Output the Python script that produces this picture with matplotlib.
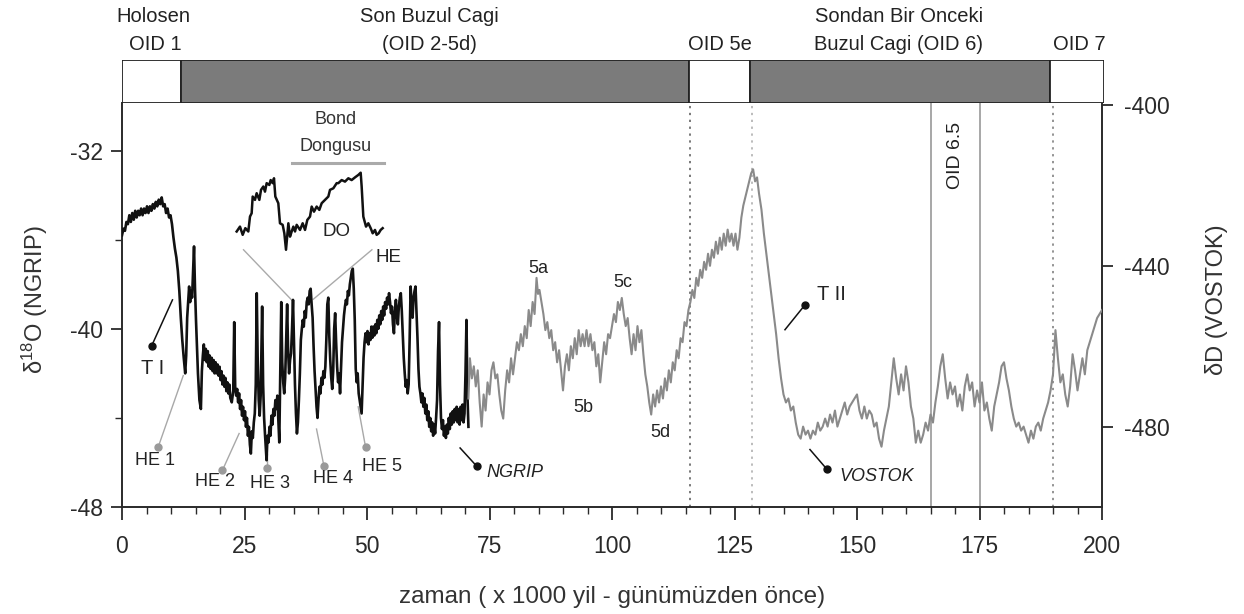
import matplotlib
matplotlib.use("Agg")
import matplotlib.pyplot as plt
from matplotlib.patches import Rectangle
from matplotlib.ticker import MultipleLocator, FixedLocator

plt.rcParams['font.family'] = ['Liberation Sans', 'DejaVu Sans']
plt.rcParams['axes.unicode_minus'] = False
plt.rcParams['mathtext.fontset'] = 'custom'
plt.rcParams['mathtext.rm'] = 'Liberation Sans'
plt.rcParams['mathtext.it'] = 'Liberation Sans:italic'

# ---------------- data ----------------
# NGRIP d18O (permil), age in ka BP
ngrip_age = [0.0, 0.3, 0.6, 0.9, 1.2, 1.5, 1.8, 2.1, 2.4, 2.7, 3.0, 3.3, 3.6, 3.9, 4.2, 4.5, 4.8, 5.1, 5.4, 5.7,
             6.0, 6.3, 6.6, 6.9, 7.2, 7.5, 7.8, 8.1, 8.4, 8.7, 9.0, 9.3, 9.6, 9.9, 10.2, 10.5, 10.8, 11.1, 11.4, 11.7,
             12.0, 12.3, 12.6, 12.9, 13.1, 13.3, 13.5, 13.7, 13.9, 14.1, 14.3, 14.5, 14.7, 14.9, 15.1, 15.3, 15.5, 15.8, 16.1, 16.3,
             16.5, 16.7, 16.9, 17.1, 17.3, 17.5, 17.7, 17.9, 18.1, 18.3, 18.5, 18.7, 18.9, 19.1, 19.3, 19.5, 19.7, 19.9, 20.1, 20.3,
             20.5, 20.7, 20.9, 21.1, 21.3, 21.5, 21.7, 21.9, 22.1, 22.4, 22.7, 22.9, 23.1, 23.3, 23.5, 23.7, 23.9, 24.1, 24.3, 24.5,
             24.7, 24.9, 25.1, 25.3, 25.5, 25.7, 25.9, 26.1, 26.3, 26.5, 26.7, 26.9, 27.1, 27.3, 27.5, 27.7, 27.9, 28.1, 28.3, 28.5,
             28.6, 28.8, 29.0, 29.2, 29.4, 29.5, 29.7, 29.9, 30.1, 30.3, 30.5, 30.7, 30.9, 31.1, 31.3, 31.5, 31.7, 31.9, 32.1, 32.3,
             32.5, 32.7, 32.9, 33.1, 33.3, 33.5, 33.7, 33.9, 34.1, 34.3, 34.5, 34.7, 34.9, 35.1, 35.3, 35.5, 35.7, 35.9, 36.1, 36.3,
             36.5, 36.7, 36.9, 37.1, 37.3, 37.5, 37.7, 37.9, 38.1, 38.3, 38.5, 38.7, 38.9, 39.1, 39.3, 39.5, 39.7, 39.9, 40.1, 40.3,
             40.5, 40.7, 40.9, 41.1, 41.3, 41.5, 41.7, 41.9, 42.1, 42.3, 42.5, 42.7, 42.9, 43.1, 43.3, 43.5, 43.7, 43.9, 44.1, 44.3,
             44.5, 44.7, 44.9, 45.1, 45.3, 45.5, 45.7, 45.9, 46.1, 46.3, 46.5, 46.7, 46.9, 47.1, 47.3, 47.5, 47.7, 47.9, 48.1, 48.3,
             48.5, 48.7, 48.9, 49.1, 49.3, 49.5, 49.7, 49.9, 50.1, 50.3, 50.5, 50.7, 50.9, 51.1, 51.3, 51.5, 51.7, 51.9, 52.1, 52.3,
             52.5, 52.7, 52.9, 53.1, 53.3, 53.5, 53.7, 53.9, 54.1, 54.3, 54.5, 54.7, 54.9, 55.1, 55.3, 55.5, 55.7, 55.9, 56.1, 56.3,
             56.5, 56.7, 56.9, 57.1, 57.3, 57.5, 57.7, 57.9, 58.1, 58.3, 58.5, 58.7, 58.9, 59.1, 59.3, 59.5, 59.7, 59.9, 60.1, 60.3,
             60.5, 60.7, 60.9, 61.1, 61.3, 61.5, 61.7, 61.9, 62.1, 62.3, 62.5, 62.7, 62.9, 63.1, 63.3, 63.5, 63.7, 63.9, 64.1, 64.3,
             64.5, 64.7, 64.9, 65.1, 65.3, 65.5, 65.7, 65.9, 66.1, 66.3, 66.5, 66.7, 66.9, 67.1, 67.3, 67.5, 67.7, 67.9, 68.1, 68.3,
             68.5, 68.7, 68.9, 69.1, 69.3, 69.5, 69.7, 69.9, 70.1, 70.3, 70.5, 70.7]
ngrip_d18o = [-35.8, -35.5, -35.6, -35.2, -35.3, -34.9, -35.2, -34.8, -35.1, -34.7, -35.0, -34.7, -34.9, -34.6, -34.9, -34.6, -34.8, -34.5, -34.8, -34.5,
              -34.7, -34.4, -34.6, -34.3, -34.5, -34.2, -34.4, -34.1, -34.5, -34.4, -34.8, -34.6, -35.0, -34.9, -35.3, -35.9, -36.4, -36.8, -37.4, -38.3,
              -39.5, -40.5, -41.3, -42.0, -41.2, -39.5, -38.8, -38.1, -38.8, -38.3, -38.6, -37.5, -36.3, -38.2, -39.6, -40.8, -42.0, -43.2, -43.6, -41.9,
              -41.2, -40.7, -41.4, -40.9, -41.5, -41.0, -41.7, -41.2, -41.8, -41.3, -41.9, -41.4, -42.0, -41.5, -42.0, -41.6, -42.1, -41.7, -42.3, -41.9,
              -42.5, -42.1, -42.6, -42.2, -42.8, -42.4, -42.9, -42.5, -43.1, -43.3, -42.8, -39.7, -42.6, -43.0, -42.7, -43.3, -42.9, -43.6, -43.2, -43.9,
              -43.5, -44.1, -43.7, -44.4, -44.0, -44.8, -44.4, -45.2, -45.6, -44.6, -44.9, -44.2, -43.8, -42.5, -38.4, -41.5, -43.2, -43.9, -43.0, -40.5,
              -39.0, -42.5, -44.0, -44.8, -45.5, -45.9, -44.8, -45.1, -44.4, -44.8, -43.9, -44.3, -43.6, -43.9, -43.2, -43.6, -43.0, -44.0, -45.1, -42.0,
              -38.8, -41.5, -42.4, -42.9, -42.2, -40.5, -38.9, -41.0, -42.0, -41.4, -41.1, -40.0, -38.7, -40.5, -42.5, -43.8, -44.7, -44.2, -43.2, -42.0,
              -40.5, -40.0, -39.6, -39.9, -39.2, -39.5, -38.8, -38.6, -38.9, -38.3, -38.2, -38.9, -39.5, -40.8, -41.9, -42.7, -43.5, -44.0, -43.2, -42.6,
              -42.9, -42.2, -42.5, -41.9, -42.2, -41.7, -40.5, -38.9, -38.6, -40.3, -41.4, -42.2, -42.7, -41.9, -40.0, -39.3, -40.6, -41.7, -42.4, -42.0,
              -42.9, -41.8, -40.6, -40.0, -39.4, -39.0, -38.7, -38.9, -38.3, -38.5, -38.0, -37.7, -37.4, -37.3, -38.2, -39.6, -41.8, -42.4, -42.0, -42.9,
              -43.2, -43.5, -43.8, -42.6, -41.3, -40.6, -40.2, -40.6, -40.1, -40.7, -40.2, -40.5, -39.9, -40.4, -39.9, -40.3, -39.8, -40.2, -39.6, -40.0,
              -39.4, -39.8, -39.2, -39.6, -39.0, -39.4, -38.8, -39.1, -38.6, -38.9, -38.4, -38.8, -39.3, -39.0, -39.8, -40.2, -39.2, -38.7, -39.4, -39.8,
              -39.0, -38.6, -38.4, -39.2, -40.2, -41.3, -42.0, -42.6, -42.3, -42.9, -42.5, -40.5, -38.1, -38.9, -39.5, -38.6, -38.3, -38.1, -39.2, -40.4,
              -41.8, -42.6, -42.9, -43.3, -42.9, -43.5, -43.1, -43.8, -43.4, -44.1, -43.7, -44.4, -44.0, -44.6, -44.2, -44.8, -44.3, -44.7, -44.0, -43.2,
              -41.0, -39.7, -42.5, -44.0, -44.5, -44.1, -44.8, -44.4, -44.9, -44.3, -44.7, -44.0, -44.5, -43.8, -44.3, -43.7, -44.2, -43.6, -44.1, -43.5,
              -44.2, -43.6, -44.3, -43.5, -44.1, -43.4, -44.2, -43.8, -42.0, -39.6, -43.0, -44.4]

# VOSTOK dD (permil), age in ka BP
vostok_age = [70.7, 71.0, 71.4, 71.8, 72.2, 72.6, 73.0, 73.4, 73.8, 74.2, 74.6, 75.0, 75.4, 75.8, 76.2, 76.6, 77.0, 77.4, 77.8, 78.2,
              78.6, 79.0, 79.4, 79.8, 80.2, 80.6, 81.0, 81.4, 81.8, 82.2, 82.6, 83.0, 83.4, 83.8, 84.2, 84.6, 84.9, 85.2, 85.6, 86.0,
              86.4, 86.8, 87.2, 87.6, 88.0, 88.4, 88.8, 89.2, 89.6, 90.0, 90.4, 90.8, 91.2, 91.6, 92.0, 92.4, 92.8, 93.2, 93.6, 94.0,
              94.4, 94.8, 95.2, 95.6, 96.0, 96.4, 96.8, 97.2, 97.6, 98.0, 98.4, 98.8, 99.2, 99.6, 100.0, 100.4, 100.8, 101.2, 101.6, 102.0,
              102.4, 102.8, 103.2, 103.6, 104.0, 104.4, 104.8, 105.2, 105.6, 106.0, 106.4, 106.8, 107.2, 107.6, 108.0, 108.4, 108.8, 109.2, 109.6, 110.0,
              110.4, 110.8, 111.2, 111.6, 112.0, 112.4, 112.8, 113.2, 113.6, 114.0, 114.4, 114.8, 115.2, 115.6, 116.0, 116.4, 116.8, 117.2, 117.6, 118.0,
              118.4, 118.8, 119.2, 119.6, 120.0, 120.4, 120.8, 121.2, 121.6, 122.0, 122.4, 122.8, 123.2, 123.6, 124.0, 124.4, 124.8, 125.2, 125.6, 126.0,
              126.4, 126.8, 127.2, 127.6, 128.0, 128.4, 128.8, 129.2, 129.6, 130.0, 130.5, 131.0, 131.5, 132.0, 132.5, 133.0, 133.5, 134.0, 134.5, 135.0,
              135.5, 136.0, 136.5, 137.0, 137.5, 138.0, 138.5, 139.0, 139.5, 140.0, 140.5, 141.0, 141.5, 142.0, 142.5, 143.0, 143.5, 144.0, 144.5, 145.0,
              145.5, 146.0, 146.5, 147.0, 147.5, 148.0, 148.5, 149.0, 149.5, 150.0, 150.5, 151.0, 151.5, 152.0, 152.5, 153.0, 153.5, 154.0, 154.5, 155.0,
              155.5, 156.0, 156.5, 157.0, 157.5, 158.0, 158.5, 159.0, 159.5, 160.0, 160.5, 161.0, 161.5, 162.0, 162.5, 163.0, 163.5, 164.0, 164.5, 165.0,
              165.5, 166.0, 166.5, 167.0, 167.5, 168.0, 168.5, 169.0, 169.5, 170.0, 170.5, 171.0, 171.5, 172.0, 172.5, 173.0, 173.5, 174.0, 174.5, 175.0,
              175.5, 176.0, 176.5, 177.0, 177.5, 178.0, 178.5, 179.0, 179.5, 180.0, 180.5, 181.0, 181.5, 182.0, 182.5, 183.0, 183.5, 184.0, 184.5, 185.0,
              185.5, 186.0, 186.5, 187.0, 187.5, 188.0, 188.5, 189.0, 189.5, 190.0, 190.5, 191.0, 191.5, 192.0, 192.5, 193.0, 193.5, 194.0, 194.5, 195.0,
              195.5, 196.0, 196.5, 197.0, 197.5, 198.0, 198.5, 199.0, 199.5, 200.0]
vostok_dD = [-473, -463, -468, -465, -470, -466, -474, -480, -472, -476, -469, -472, -466, -464, -468, -467, -472, -476, -478, -471,
             -466, -469, -463, -467, -463, -459, -461, -457, -460, -455, -458, -451, -455, -449, -452, -443, -447, -446, -449, -452,
             -456, -454, -458, -456, -461, -459, -464, -461, -466, -471, -465, -462, -466, -460, -463, -458, -462, -456, -460, -457,
             -460, -456, -460, -457, -461, -459, -465, -462, -469, -464, -459, -462, -457, -458, -455, -452, -454, -449, -451, -448,
             -452, -455, -453, -458, -462, -457, -461, -455, -459, -456, -462, -467, -470, -474, -477, -472, -475, -471, -474, -470,
             -473, -468, -471, -466, -469, -464, -466, -461, -463, -458, -459, -454, -455, -451, -449, -446, -448, -443, -445, -441,
             -443, -439, -441, -437, -440, -436, -438, -434, -437, -433, -436, -432, -435, -431, -434, -432, -435, -432, -436, -433,
             -428, -425, -423, -421, -419, -417, -416, -419, -418, -422, -426, -432, -437, -442, -447, -452, -457, -463, -468, -472,
             -474, -473, -476, -475, -479, -482, -483, -480, -482, -481, -483, -481, -482, -479, -481, -480, -478, -480, -477, -479,
             -476, -480, -478, -476, -474, -477, -475, -474, -473, -472, -476, -478, -475, -478, -476, -477, -480, -479, -483, -485,
             -481, -478, -475, -469, -463, -468, -472, -467, -471, -465, -469, -475, -478, -484, -481, -484, -482, -479, -481, -477,
             -479, -474, -470, -465, -462, -468, -473, -469, -472, -470, -475, -472, -476, -470, -467, -471, -469, -475, -471, -474,
             -469, -476, -474, -478, -481, -475, -472, -469, -465, -464, -468, -471, -475, -478, -480, -479, -481, -480, -482, -484,
             -481, -483, -480, -479, -481, -478, -476, -474, -471, -467, -456, -463, -469, -467, -472, -475, -470, -462, -466, -471,
             -467, -463, -467, -461, -459, -457, -455, -453, -452, -451]

# "Bond dongusu" inset curve (schematic DO cycles), drawn in NGRIP units
bond_x = [23.40, 24.08, 24.63, 25.17, 25.78, 26.12, 26.46, 26.67, 27.14, 27.48, 28.03, 28.37, 28.84, 29.18, 29.52, 30.07,
          30.34, 30.75, 31.02, 31.29, 31.90, 32.24, 32.79, 33.13, 33.47, 33.95, 34.29, 34.63, 34.97, 35.31, 35.65, 36.33,
          36.87, 37.35, 37.82, 38.37, 38.71, 39.18, 39.73, 40.27, 40.75, 41.43, 42.11, 42.45, 43.13, 43.81, 44.15, 44.83,
          45.51, 46.19, 46.87, 47.55, 48.23, 48.71, 48.91, 49.25, 49.80, 50.27, 50.75, 51.16, 51.63, 51.97, 52.38, 52.79, 53.20]
bond_y = [-35.63, -35.41, -35.78, -35.48, -35.63, -34.96, -34.81, -34.06, -34.21, -33.91, -34.21, -33.76, -33.61, -33.84, -33.46, -33.54,
          -33.32, -33.46, -33.24, -34.06, -34.36, -35.26, -35.33, -35.71, -36.45, -35.26, -35.86, -35.63, -35.41, -35.63, -35.33, -35.56,
          -35.26, -35.56, -35.11, -34.96, -34.51, -34.74, -34.51, -34.66, -34.36, -34.21, -34.06, -33.76, -33.69, -33.46, -33.46, -33.32,
          -33.39, -33.24, -33.32, -33.20, -33.09, -32.99, -33.61, -34.96, -35.41, -35.26, -35.48, -35.71, -35.56, -35.78, -35.71, -35.56, -35.48]

# Marine isotope stages (OID) bar
stage_edges = [0, 12, 116, 128.5, 190, 201]
stage_fill = ['white', '#7b7b7b', 'white', '#7b7b7b', 'white']
stage_line1 = [("Holosen", 6.5), ("Son Buzul Cagi", 63), ("Sondan Bir Onceki", 159)]
stage_line2 = [("OID 1", 6.8), ("(OID 2-5d)", 63), ("OID 5e", 122.3), ("Buzul Cagi (OID 6)", 159), ("OID 7", 196)]

dotted_lines = [(116, '#555555'), (128.5, '#aaaaaa'), (190, '#777777')]
oid65_bounds = [165, 175]

x_ticks = [0, 25, 50, 75, 100, 125, 150, 175, 200]
left_ticks = [-48, -40, -32]
right_ticks = [-480, -440, -400]

# Heinrich events: (label, label_x, label_y, dot_x, dot_y, line_end_x, line_end_y)
he_events = [("HE 1", 6.7, -45.9, 7.4, -45.3, 12.5, -42.1),
             ("HE 2", 19.0, -46.85, 20.5, -46.35, 23.9, -44.7),
             ("HE 3", 30.2, -46.95, 29.5, -46.25, 29.5, -45.6),
             ("HE 4", 43.1, -46.7, 41.2, -46.15, 39.7, -44.5),
             ("HE 5", 53.0, -46.2, 49.7, -45.3, 48.2, -43.5)]

# ---------------- figure ----------------
W, H = 1244, 614
fig = plt.figure(figsize=(W / 100, H / 100), dpi=100)


def fx(px):
    return px / W


def fy(py):
    return 1 - py / H


AX_L, AX_R, AX_T, AX_B = 122, 1102, 103, 507
ax = fig.add_axes([fx(AX_L), fy(AX_B), fx(AX_R) - fx(AX_L), fy(AX_T) - fy(AX_B)])
ax.set_xlim(0, 200)
ax.set_ylim(-48, -29.86)
ax2 = ax.twinx()
ax2.set_ylim(-500, -399.5)

spine_c = '#2a2a2a'
for a in (ax, ax2):
    a.spines['top'].set_visible(False)
    for s in a.spines.values():
        s.set_color(spine_c)
        s.set_linewidth(1.4)
ax.spines['right'].set_visible(False)
ax2.spines['left'].set_visible(False)
ax2.spines['bottom'].set_visible(False)

ax.xaxis.set_major_locator(FixedLocator(x_ticks))
ax.xaxis.set_minor_locator(MultipleLocator(5))
ax.yaxis.set_major_locator(FixedLocator(left_ticks))
ax.yaxis.set_minor_locator(MultipleLocator(4))
ax2.yaxis.set_major_locator(FixedLocator(right_ticks))
ax.tick_params(axis='x', which='major', length=9, width=1.3, pad=11, labelsize=16.5, colors=spine_c)
ax.tick_params(axis='x', which='minor', length=5, width=1.0, colors=spine_c)
ax.tick_params(axis='y', which='major', length=8, width=1.3, pad=6, labelsize=16.5, colors=spine_c)
ax.tick_params(axis='y', which='minor', length=5, width=1.0, colors=spine_c)
ax2.tick_params(axis='y', which='major', length=8, width=1.3, pad=8, labelsize=16.5, colors=spine_c)

# vertical reference lines
for xv in oid65_bounds:
    ax.axvline(xv, color='#a0a0a0', lw=1.3, zorder=1)
for xv, c in dotted_lines:
    ax.axvline(xv, color=c, lw=1.1, ls=(0, (1.5, 3)), zorder=1)

# data lines
ax.plot(ngrip_age, ngrip_d18o, color='#111111', lw=1.9, zorder=3)
ax2.plot(vostok_age, vostok_dD, color='#8a8a8a', lw=1.5, zorder=3)

# Bond cycle inset
ax.plot(bond_x, bond_y, color='#111111', lw=1.8, zorder=3)
ax.plot([34.6, 53.5], [-32.57, -32.57], color='#aaaaaa', lw=2.2)
ax.plot([24.8, 34.6], [-36.45, -38.7], color='#aaaaaa', lw=1.0)
ax.plot([39.05, 51.0], [-38.67, -36.45], color='#aaaaaa', lw=1.0)
ax.text(43.5, -30.62, "Bond", ha='center', va='center', fontsize=13, color='#333333')
ax.text(43.5, -31.8, "Dongusu", ha='center', va='center', fontsize=13, color='#333333')
ax.text(43.8, -35.63, "DO", ha='center', va='center', fontsize=13.5, color='#222222')
ax.text(54.4, -36.8, "HE", ha='center', va='center', fontsize=13.5, color='#222222')

# T I
ax.plot([6.06, 10.3], [-40.76, -38.7], color='#111111', lw=1.1)
ax.plot([6.06], [-40.76], 'o', color='#111111', ms=5)
ax.text(6.3, -41.8, "T I", ha='center', va='center', fontsize=14.5, color='#222222')

# Heinrich events
for lab, lx, ly, dx, dy, ex, ey in he_events:
    ax.plot([dx, ex], [dy, ey], color='#a8a8a8', lw=1.0, zorder=2)
    ax.plot([dx], [dy], 'o', color='#9a9a9a', ms=5, zorder=2)
    ax.text(lx, ly, lab, ha='center', va='center', fontsize=13, color='#222222')

# NGRIP label
ax.plot([69.0, 72.4], [-45.35, -46.17], color='#111111', lw=1.1)
ax.plot([72.4], [-46.17], 'o', color='#111111', ms=5)
ax.text(74.4, -46.46, "NGRIP", ha='left', va='center', fontsize=13, style='italic', color='#222222')

# MIS 5 sub-stage labels
for lab, lx, ly in [("5a", 85.0, -37.27), ("5b", 94.1, -43.55), ("5c", 102.3, -37.92), ("5d", 109.8, -44.67)]:
    ax.text(lx, ly, lab, ha='center', va='center', fontsize=13, color='#222222')

# T II
ax.plot([135.3, 139.4], [-40.04, -38.92], color='#111111', lw=1.1)
ax.plot([139.4], [-38.92], 'o', color='#111111', ms=5)
ax.text(144.8, -38.47, "T II", ha='center', va='center', fontsize=14.5, color='#222222')

# VOSTOK label
ax.plot([140.4, 143.8], [-45.42, -46.29], color='#111111', lw=1.1)
ax.plot([143.8], [-46.29], 'o', color='#111111', ms=5)
ax.text(146.5, -46.62, "VOSTOK", ha='left', va='center', fontsize=13, style='italic', color='#222222')

# OID 6.5
ax.text(170, -32.2, "OID 6.5", rotation=90, ha='center', va='center', fontsize=14, color='#222222')

# axis labels
fig.text(fx(35), fy(300), "\u03b4$^{18}$O (NGRIP)", rotation=90, ha='center', va='center',
         fontsize=17, color='#333333')
fig.text(fx(1217), fy(300), "\u03b4D (VOSTOK)", rotation=90, ha='center', va='center',
         fontsize=17, color='#333333')
fig.text(fx(612), fy(597), "zaman ( x 1000 yil - günümüzden önce)", ha='center', va='center',
         fontsize=17.5, color='#333333')

# stage bar
bax = fig.add_axes([fx(AX_L), fy(103), fx(1104) - fx(AX_L), fy(60) - fy(103)])
bax.set_xlim(0, 201)
bax.set_ylim(0, 1)
bax.axis('off')
for i in range(len(stage_fill)):
    bax.add_patch(Rectangle((stage_edges[i], 0), stage_edges[i + 1] - stage_edges[i], 1,
                            facecolor=stage_fill[i], edgecolor='#222222', lw=1.3))
for lab, xv in stage_line1:
    bax.text(xv, 2.0, lab, ha='center', va='center', fontsize=14.5, color='#222222', clip_on=False)
for lab, xv in stage_line2:
    bax.text(xv, 1.36, lab, ha='center', va='center', fontsize=14.5, color='#222222', clip_on=False)

fig.savefig("out.png", dpi=100)
